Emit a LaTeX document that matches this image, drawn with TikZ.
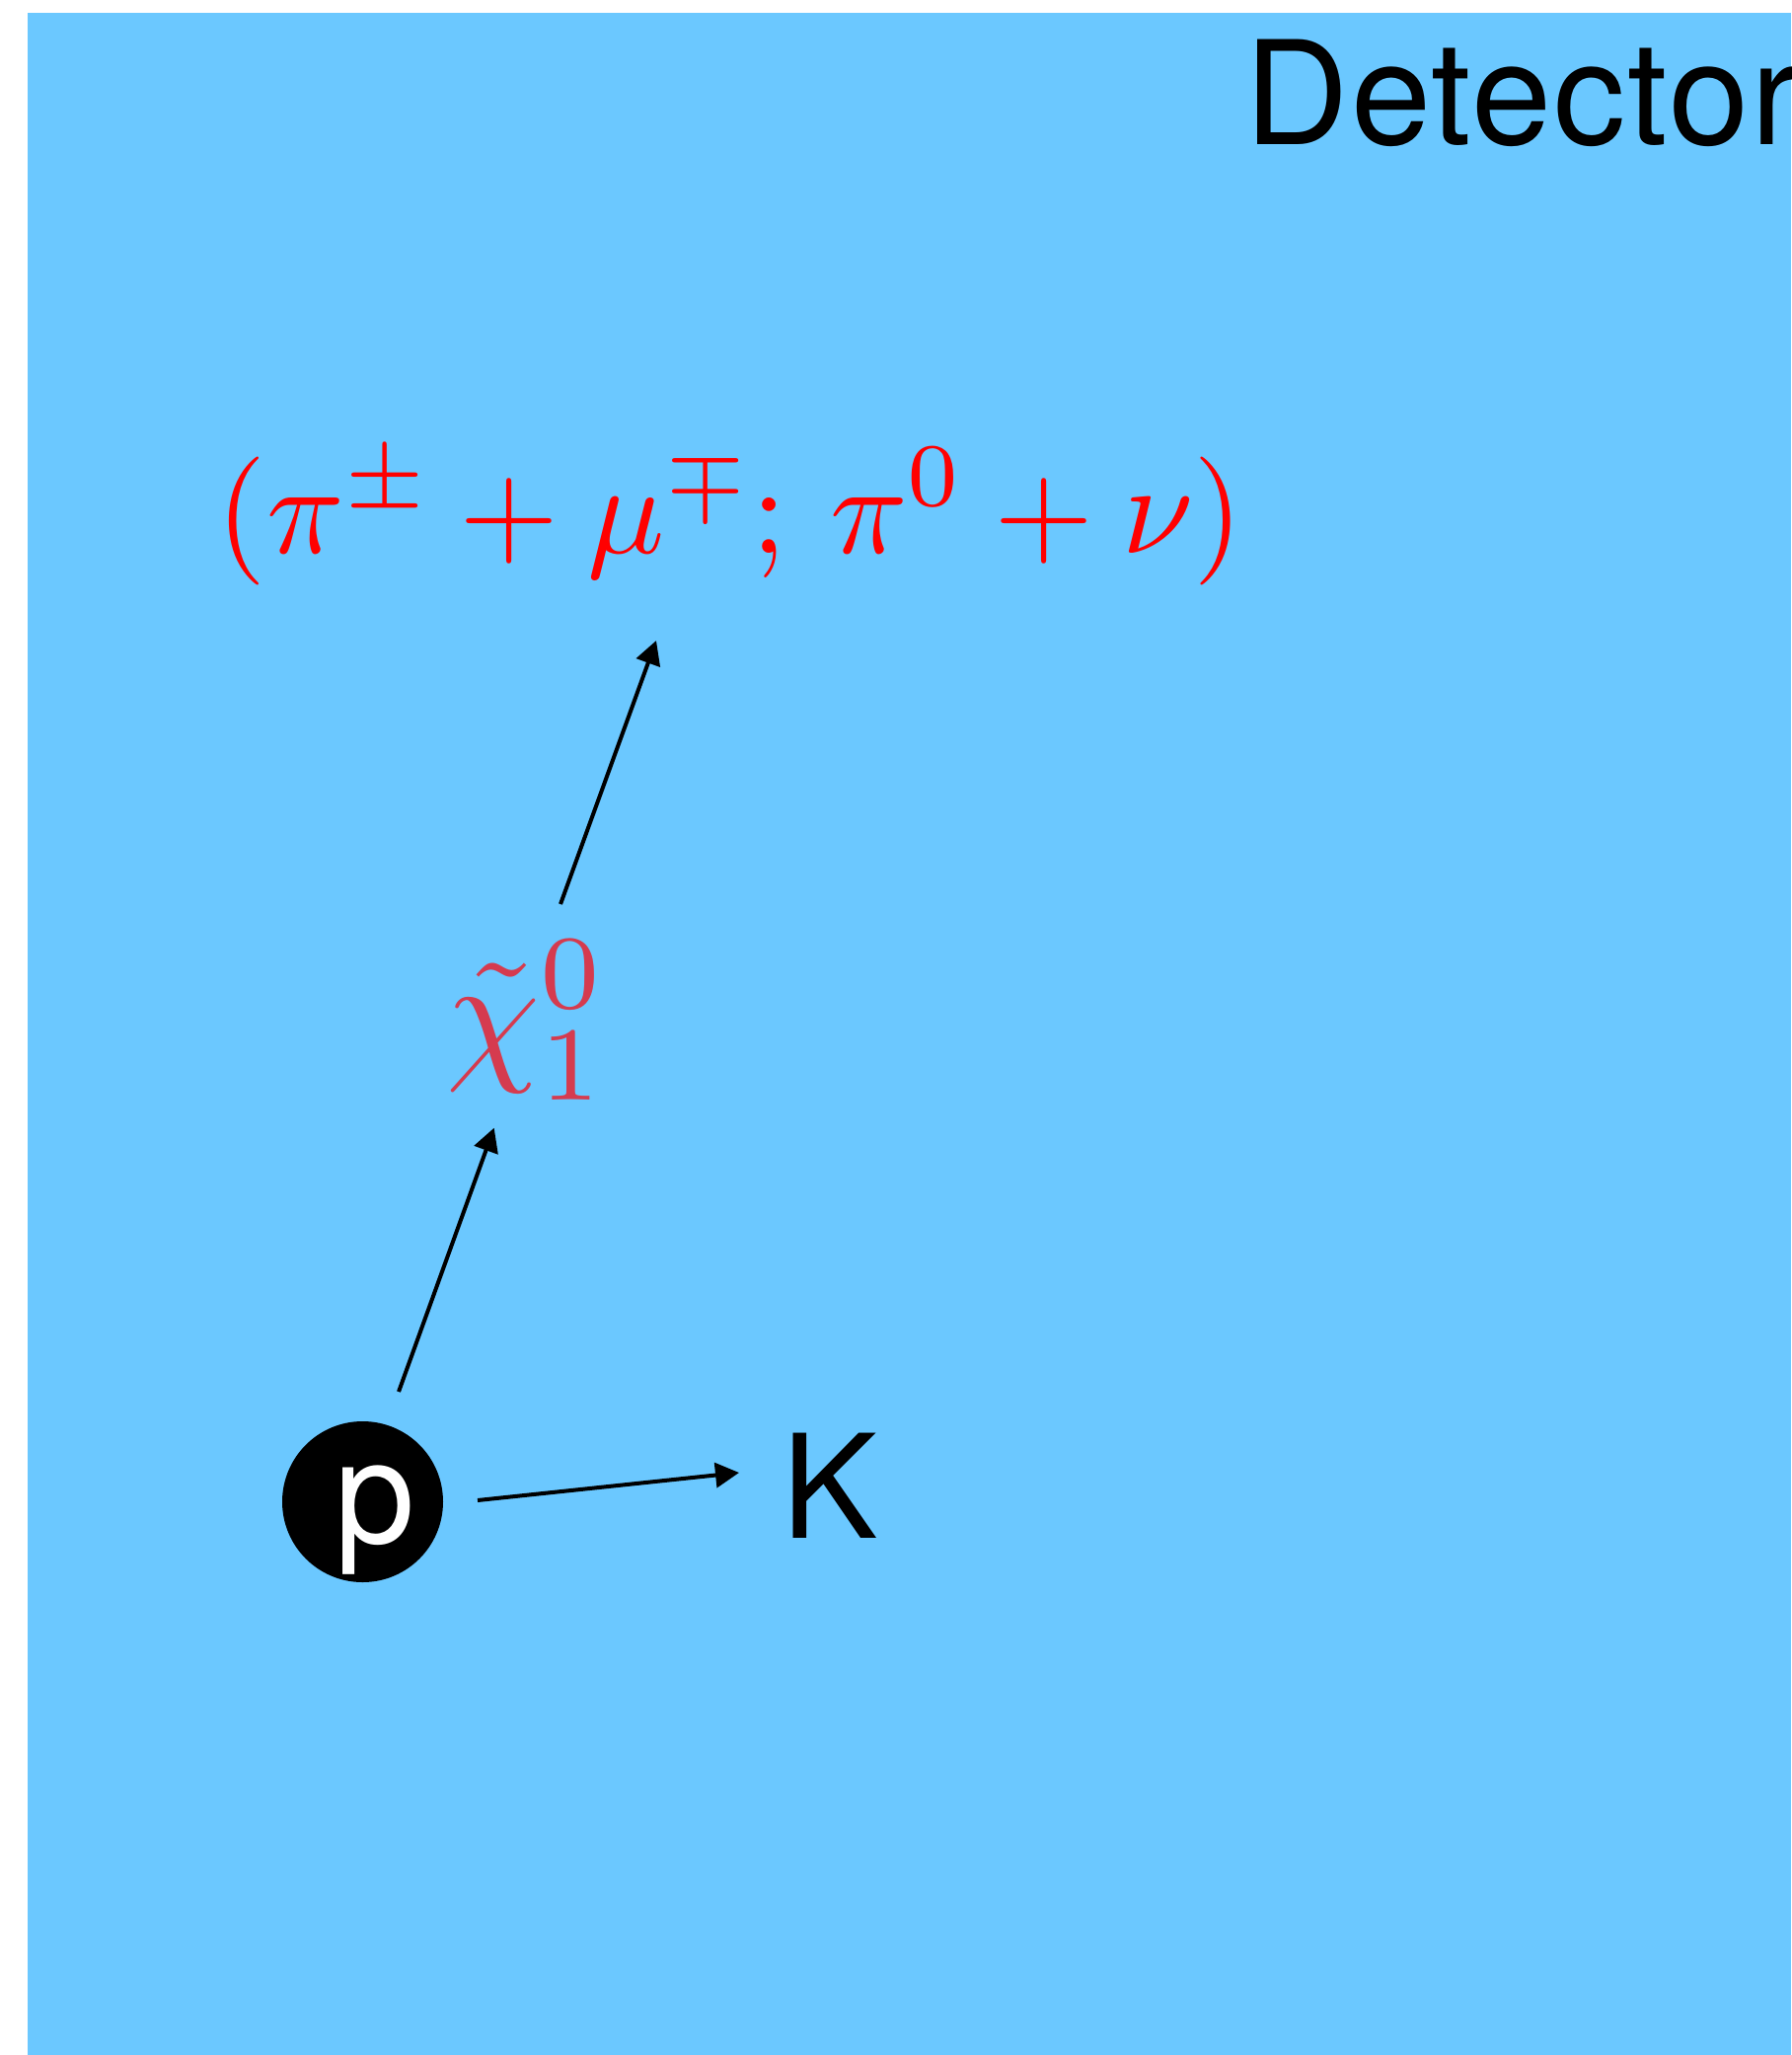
\documentclass[tikz,border=0pt]{standalone}
\usepackage{graphicx}
\usepackage{fontspec}
\newfontfamily\heros{TeX Gyre Heros}
\newfontfamily\herosw{TeX Gyre Heros}[LetterSpace=1.5]
\usetikzlibrary{arrows.meta}
\definecolor{detblue}{RGB}{107,200,255}
\definecolor{decayred}{RGB}{255,0,0}
\definecolor{chired}{RGB}{213,59,79}
\begin{document}
\begin{tikzpicture}[x=0.5pt,y=-0.5pt,
  arr/.style={line width=2pt,-{Triangle[length=12pt,width=12.5pt]}},
  lbl/.style={inner sep=0pt,font=\heros\fontsize{73}{80}\selectfont},
  widelbl/.style={inner sep=0pt,font=\herosw\fontsize{73}{80}\selectfont},
  mathlbl/.style={inner sep=0pt,text=decayred},
  chilbl/.style={inner sep=0pt,text=chired},
  proton/.style={circle,fill=black,minimum size=81.5pt,inner sep=0pt,text=white,
    font=\heros\fontsize{73}{80}\selectfont,text height=41.5pt,text depth=0pt}]
\useasboundingbox (0,0) rectangle (1815,2082);
\clip (0,0) rectangle (1815,2082);
\fill[white] (0,0) rectangle (1815,2082);
\fill[detblue] (28,13) rectangle (1815,2082);
\node[widelbl,anchor=base west] (det) at (1261,147) {Detector};
\node[mathlbl,anchor=base] (dec) at (740,560) {\scalebox{6.5}{$(\pi^{\pm}+\mu^{\mp};\,\pi^{0}+\nu)$}};
\node[chilbl,anchor=base west] (chi) at (452,1077) {\scalebox{7.6}{$\tilde{\chi}^{0}_{1}$}};
\node[proton] (p) at (367.5,1521.5) {\hspace*{13pt}p};
\node[lbl,anchor=base west] (K) at (792,1558) {K};
\draw[arr] ([shift={(116.5,-1.5)}]p.center) -- ([shift={(-43,-66)}]K.base west);
\draw[arr] ([shift={(36.5,-111.5)}]p.center) -- ([shift={(48.7,65.7)}]chi.base west);
\draw[arr] ([shift={(116,-161)}]chi.base west) -- ([shift={(-75,89)}]dec.base);
\end{tikzpicture}
\end{document}
